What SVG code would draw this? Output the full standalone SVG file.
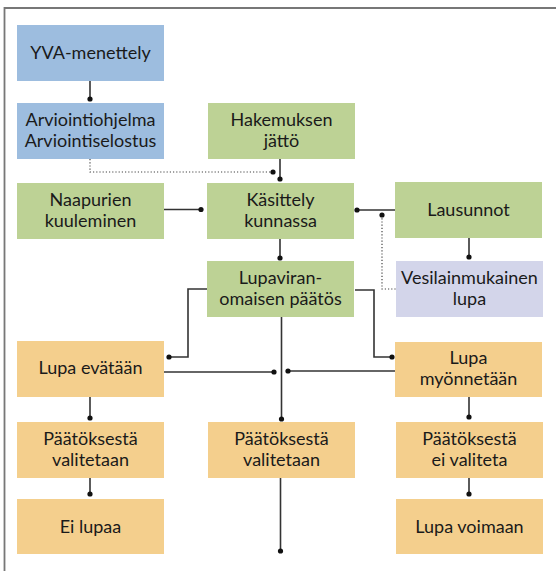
<svg xmlns="http://www.w3.org/2000/svg" width="556" height="571" viewBox="0 0 556 571">
<style>
.blue{fill:#9dbddf}
.green{fill:#bdd295}
.lav{fill:#d3d5ea}
.orange{fill:#f4cf8d}
text{font-family:Lato,"Open Sans","Liberation Sans",sans-serif;font-size:18px;fill:#1a1a1a;text-anchor:middle}
.ln{fill:none;stroke:#333;stroke-width:1.6}
.dt{fill:none;stroke:#444;stroke-width:1.2;stroke-dasharray:1.2 2}
.dot{fill:#111}
.frame{fill:none;stroke:#777;stroke-width:1.8}
</style>
<path class="frame" d="M556,8 H4.5 V571"/>
<g id="connectors">
<path class="ln" d="M90,81 V99"/><circle class="dot" cx="90" cy="99" r="2.6"/>
<path class="dt" d="M90,159 V172 H273"/><circle class="dot" cx="273" cy="172" r="2.6"/>
<path class="ln" d="M280,159 V179"/><circle class="dot" cx="280" cy="179" r="2.6"/>
<path class="ln" d="M164,209.5 H201"/><circle class="dot" cx="201" cy="209.5" r="2.6"/>
<path class="ln" d="M395,210 H357"/><circle class="dot" cx="357" cy="210" r="2.6"/>
<path class="dt" d="M382,215 V289 H396"/><circle class="dot" cx="382" cy="215" r="2.6"/>
<path class="ln" d="M280,239 V258"/><circle class="dot" cx="280" cy="258" r="2.6"/>
<path class="ln" d="M469,238 V257"/><circle class="dot" cx="469" cy="257" r="2.6"/>
<path class="ln" d="M208,289 H188 V357 H169"/><circle class="dot" cx="169" cy="357" r="2.6"/>
<path class="ln" d="M355,290 H374 V357 H392"/><circle class="dot" cx="392" cy="357" r="2.6"/>
<path class="ln" d="M281.5,317 V419"/><circle class="dot" cx="281.5" cy="419" r="2.6"/>
<path class="ln" d="M280.5,478 V551"/><circle class="dot" cx="280.5" cy="551" r="2.6"/>
<path class="ln" d="M164,372 H274"/><circle class="dot" cx="274" cy="372" r="2.6"/>
<path class="ln" d="M395,371 H288"/><circle class="dot" cx="288" cy="371" r="2.6"/>
<path class="ln" d="M90,397 V418"/><circle class="dot" cx="90" cy="418" r="2.6"/>
<path class="ln" d="M90,478 V494"/><circle class="dot" cx="90" cy="494" r="2.6"/>
<path class="ln" d="M469,397 V417"/><circle class="dot" cx="469" cy="417" r="2.6"/>
<path class="ln" d="M469,478 V494"/><circle class="dot" cx="469" cy="494" r="2.6"/>
</g>
<g id="yva"><rect class="blue" x="17" y="25" width="147" height="56"/><text x="90.5" y="59">YVA-menettely</text></g>
<g id="arviointi"><rect class="blue" x="17" y="103" width="147" height="56"/><text x="90.5" y="126">Arviointiohjelma</text><text x="90.5" y="147">Arviointiselostus</text></g>
<g id="hakemuksen"><rect class="green" x="208" y="103" width="147" height="56"/><text x="281.5" y="126">Hakemuksen</text><text x="281.5" y="147">jättö</text></g>
<g id="naapurien"><rect class="green" x="17" y="183" width="147" height="56"/><text x="90.5" y="206">Naapurien</text><text x="90.5" y="227">kuuleminen</text></g>
<g id="kasittely"><rect class="green" x="207" y="183" width="147" height="56"/><text x="280.5" y="206">Käsittely</text><text x="280.5" y="227">kunnassa</text></g>
<g id="lausunnot"><rect class="green" x="395" y="182" width="147" height="56"/><text x="468.5" y="216">Lausunnot</text></g>
<g id="lupaviran"><rect class="green" x="207" y="261" width="147" height="56"/><text x="280.5" y="284">Lupaviran-</text><text x="280.5" y="305">omaisen päätös</text></g>
<g id="vesilain"><rect class="lav" x="396" y="261" width="147" height="56"/><text x="469.5" y="284">Vesilainmukainen</text><text x="469.5" y="305">lupa</text></g>
<g id="evataan"><rect class="orange" x="17" y="341" width="147" height="56"/><text x="90.5" y="374">Lupa evätään</text></g>
<g id="myonnetaan"><rect class="orange" x="395" y="342" width="147" height="55"/><text x="468.5" y="364">Lupa</text><text x="468.5" y="385">myönnetään</text></g>
<g id="valitetaan1"><rect class="orange" x="17" y="422" width="147" height="56"/><text x="90.5" y="445">Päätöksestä</text><text x="90.5" y="466">valitetaan</text></g>
<g id="valitetaan2"><rect class="orange" x="208" y="422" width="147" height="56"/><text x="281.5" y="445">Päätöksestä</text><text x="281.5" y="466">valitetaan</text></g>
<g id="eivaliteta"><rect class="orange" x="396" y="422" width="147" height="56"/><text x="469.5" y="445">Päätöksestä</text><text x="469.5" y="466">ei valiteta</text></g>
<g id="eilupaa"><rect class="orange" x="17" y="499" width="147" height="55"/><text x="90.5" y="533">Ei lupaa</text></g>
<g id="voimaan"><rect class="orange" x="396" y="499" width="147" height="55"/><text x="469.5" y="533">Lupa voimaan</text></g>
</svg>
